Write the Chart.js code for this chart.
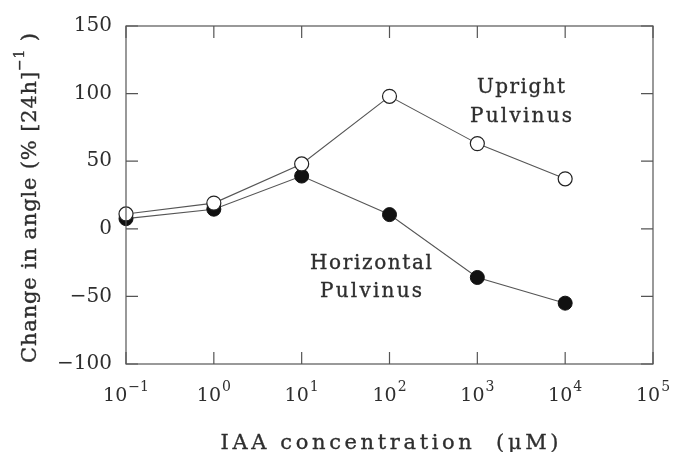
<!DOCTYPE html>
<html>
<head>
<meta charset="utf-8">
<script src="https://cdn.jsdelivr.net/npm/chart.js@4.4.1/dist/chart.umd.min.js"></script>
<style>
  html, body { margin: 0; padding: 0; background: #fff; }
  #wrap { width: 673px; height: 452px; }
</style>
</head>
<body>
<div id="wrap"><canvas id="mychart"></canvas></div>
<script>
// data
var concentrations = [0.1, 1, 10, 100, 1000, 10000];
var uprightValues = [11, 19, 48, 98, 63, 37];
var horizontalValues = [7.5, 14.5, 39, 10.5, -36, -55];
var xTickValues = [0.1, 1, 10, 100, 1000, 10000, 100000];
var xTickExponents = ['\u22121', '0', '1', '2', '3', '4', '5'];
var yTickValues = [-100, -50, 0, 50, 100, 150];

var serif = "'DejaVu Serif', serif";
var ink = '#2e2e2e';

function toPoints(vals) {
  return concentrations.map(function(c, i) { return { x: c, y: vals[i] }; });
}

// draws text pieces one char at a time, stretched to a given width, centred on cx
function spacedText(ctx, parts, cx, y, width) {
  var chars = [];
  parts.forEach(function(p) {
    ctx.font = p.size + 'px ' + serif;
    p.t.split('').forEach(function(ch) {
      chars.push({ ch: ch, size: p.size, dy: p.dy || 0, w: ctx.measureText(ch).width });
    });
  });
  var natural = chars.reduce(function(s, c) { return s + c.w; }, 0);
  var gap = chars.length > 1 ? (width - natural) / (chars.length - 1) : 0;
  var x = cx - width / 2;
  ctx.textAlign = 'left';
  ctx.textBaseline = 'alphabetic';
  ctx.lineWidth = 0.35;
  ctx.strokeStyle = ink;
  chars.forEach(function(c) {
    ctx.font = c.size + 'px ' + serif;
    ctx.fillText(c.ch, x, y + c.dy);
    ctx.strokeText(c.ch, x, y + c.dy);
    x += c.w + gap;
  });
}

// frame, inward ticks, x labels with exponents, titles, curve labels
var framePlugin = {
  id: 'frame',
  afterDraw: function(chart) {
    var ctx = chart.ctx, a = chart.chartArea;
    var xs = chart.scales.x, ys = chart.scales.y;
    var tl = 12;
    ctx.save();
    ctx.strokeStyle = '#555';
    ctx.lineWidth = 1.2;
    ctx.strokeRect(a.left, a.top, a.right - a.left, a.bottom - a.top);
    ctx.beginPath();
    xTickValues.forEach(function(v) {
      var px = xs.getPixelForValue(v);
      ctx.moveTo(px, a.bottom); ctx.lineTo(px, a.bottom - tl);
      ctx.moveTo(px, a.top); ctx.lineTo(px, a.top + tl);
    });
    yTickValues.forEach(function(v) {
      var py = ys.getPixelForValue(v);
      ctx.moveTo(a.left, py); ctx.lineTo(a.left + tl, py);
      ctx.moveTo(a.right, py); ctx.lineTo(a.right - tl, py);
    });
    ctx.stroke();

    ctx.fillStyle = ink;
    // x tick labels: 10 with superscript
    xTickValues.forEach(function(v, i) {
      var px = xs.getPixelForValue(v);
      ctx.font = '19px ' + serif;
      var bw = ctx.measureText('10').width;
      ctx.font = '14px ' + serif;
      var ew = ctx.measureText(xTickExponents[i]).width;
      var x0 = px - (bw + ew + 1) / 2;
      ctx.textAlign = 'left';
      ctx.textBaseline = 'alphabetic';
      ctx.font = '19px ' + serif;
      ctx.fillText('10', x0, a.bottom + 37);
      ctx.font = '14px ' + serif;
      ctx.fillText(xTickExponents[i], x0 + bw + 1, a.bottom + 27);
    });

    // axis titles
    spacedText(ctx, [{ t: 'IAA concentration  (\u03bcM)', size: 21 }], (a.left + a.right) / 2, 449, 338);
    ctx.save();
    ctx.translate(36, (a.top + a.bottom) / 2 + 3);
    ctx.rotate(-Math.PI / 2);
    spacedText(ctx, [
      { t: 'Change in angle (% [24h]', size: 21 },
      { t: '\u22121', size: 14, dy: -12 },
      { t: ' )', size: 21 }
    ], 0, 0, 330);
    ctx.restore();

    // curve labels
    spacedText(ctx, [{ t: 'Upright', size: 20 }], 521, 93, 88);
    spacedText(ctx, [{ t: 'Pulvinus', size: 20 }], 521, 122, 102);
    spacedText(ctx, [{ t: 'Horizontal', size: 20 }], 371, 269, 122);
    spacedText(ctx, [{ t: 'Pulvinus', size: 20 }], 371, 297, 102);
    ctx.restore();
  }
};

var mychart = document.getElementById('mychart').getContext('2d');
var pulvChart = new Chart(mychart, {
  type: 'line',
  data: {
    datasets: [{
      label: 'Upright Pulvinus',
      data: toPoints(uprightValues),
      borderColor: '#555',
      borderWidth: 1.1,
      pointBackgroundColor: '#fff',
      pointBorderColor: '#222',
      pointBorderWidth: 1.2,
      pointRadius: 7,
      clip: false
    }, {
      label: 'Horizontal Pulvinus',
      data: toPoints(horizontalValues),
      borderColor: '#555',
      borderWidth: 1.1,
      pointBackgroundColor: '#111',
      pointBorderColor: '#111',
      pointBorderWidth: 1,
      pointRadius: 7,
      clip: false
    }]
  },
  options: {
    responsive: true,
    maintainAspectRatio: false,
    animation: false,
    layout: { padding: { left: 0, right: 20, top: 20, bottom: 0 } },
    plugins: { legend: { display: false }, tooltip: { enabled: false } },
    scales: {
      x: {
        type: 'logarithmic',
        min: 0.1,
        max: 100000,
        grid: { display: false },
        border: { display: false },
        ticks: { display: false },
        afterFit: function(s) { s.height = 88; }
      },
      y: {
        min: -100,
        max: 150,
        grid: { display: false, drawTicks: false },
        border: { display: false },
        ticks: {
          stepSize: 50,
          padding: 14,
          color: ink,
          font: { family: serif, size: 20 },
          callback: function(v) { return v < 0 ? '\u2212' + Math.abs(v) : v; }
        },
        afterFit: function(s) { s.width = 126; }
      }
    }
  },
  plugins: [framePlugin]
});
</script>
</body>
</html>
